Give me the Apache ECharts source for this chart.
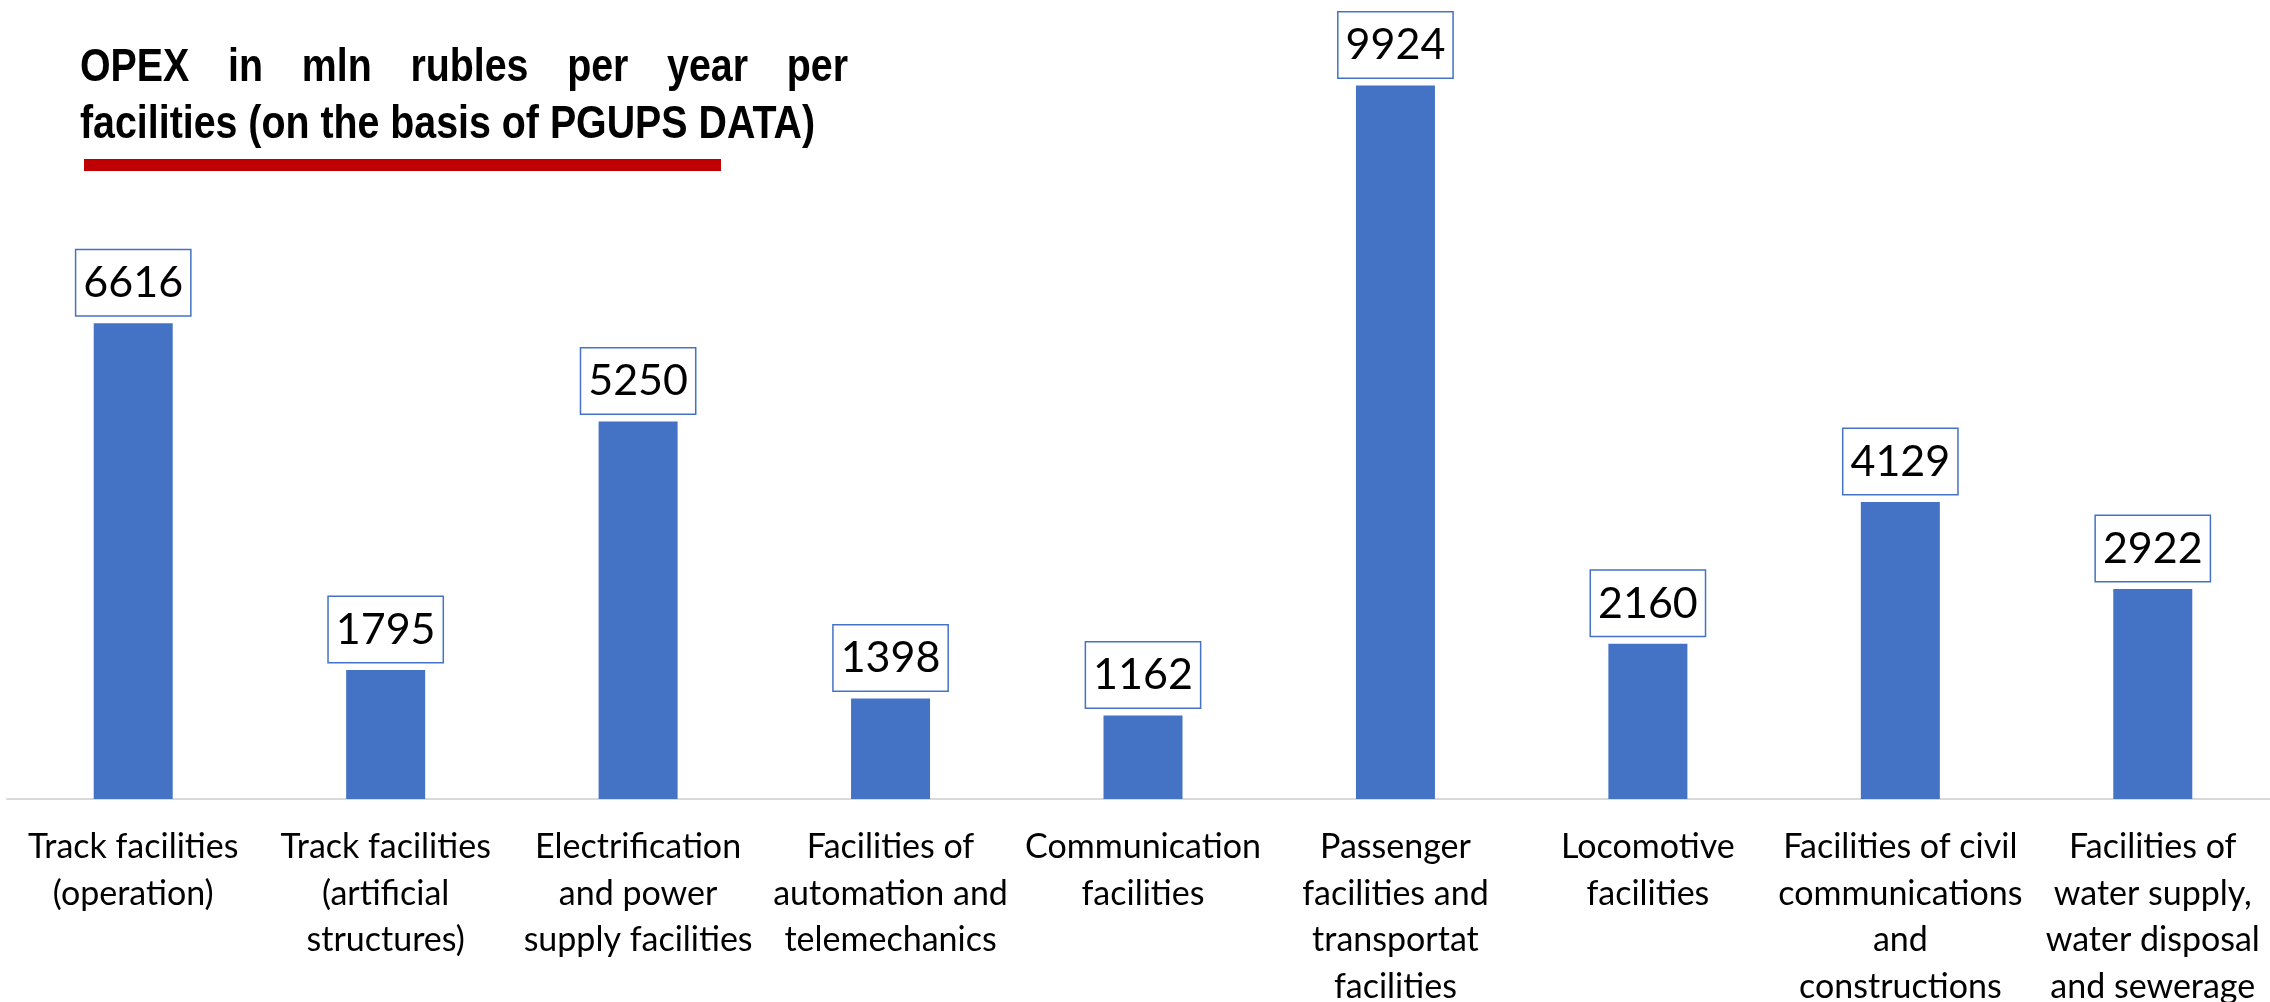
<!DOCTYPE html>
<html>
<head>
<meta charset="utf-8">
<style>
  html, body { margin: 0; padding: 0; background: #fff; }
  #chart { width: 2270px; height: 1002px; }
</style>
<script src="https://cdn.jsdelivr.net/npm/echarts@6/dist/echarts.min.js"></script>
</head>
<body>
<div id="chart"></div>
<script>
// Facility groups (line breaks follow the printed wrapping)
const categories = [
  'Track facilities\n(operation)',
  'Track facilities\n(artificial\nstructures)',
  'Electrification\nand power\nsupply facilities',
  'Facilities of\nautomation and\ntelemechanics',
  'Communication\nfacilities',
  'Passenger\nfacilities and\ntransportat\nfacilities',
  'Locomotive\nfacilities',
  'Facilities of civil\ncommunications\nand\nconstructions',
  'Facilities of\nwater supply,\nwater disposal\nand sewerage'
];

// OPEX, mln rubles per year
const opexValues = [6616, 1795, 5250, 1398, 1162, 9924, 2160, 4129, 2922];

const titleLines = [
  'OPEX in mln rubles per year per',
  'facilities (on the basis of PGUPS DATA)'
];

const chart = echarts.init(document.getElementById('chart'), null, { renderer: 'canvas' });

// Title: bold condensed, first line justified to the block width
const titleFont = 'bold 46px "Liberation Sans", Arial, sans-serif';
const measure = document.createElement('canvas').getContext('2d');
measure.font = titleFont;
const titleLeft = 80, titleRight = 848, line2Width = 735;
const sx = line2Width / measure.measureText(titleLines[1]).width;
const words = titleLines[0].split(' ');
const wordWidths = words.map(w => measure.measureText(w).width * sx);
const gap = (titleRight - titleLeft - wordWidths.reduce((a, b) => a + b, 0)) / (words.length - 1);

const graphics = [];
let cx = titleLeft;
words.forEach((w, i) => {
  graphics.push({
    type: 'text', x: cx, y: 68, scaleX: sx,
    style: { text: w, font: titleFont, fill: '#000', verticalAlign: 'middle' }
  });
  cx += wordWidths[i] + gap;
});
graphics.push({
  type: 'text', x: titleLeft, y: 125, scaleX: sx,
  style: { text: titleLines[1], font: titleFont, fill: '#000', verticalAlign: 'middle' }
});
graphics.push({
  type: 'rect', shape: { x: 84, y: 159, width: 637, height: 12 },
  style: { fill: '#C00000' }
});

const option = {
  backgroundColor: '#fff',
  animation: false,
  graphic: graphics,
  grid: { left: 7, width: 2272, top: 80, bottom: 203, containLabel: false, outerBoundsMode: 'none' },
  xAxis: {
    type: 'category',
    data: categories,
    axisLine: { show: true, lineStyle: { color: '#D9D9D9', width: 2 } },
    axisTick: { show: false },
    axisLabel: {
      interval: 0,
      margin: 25,
      color: '#000',
      fontFamily: 'Lato, "Open Sans", sans-serif',
      fontSize: 34,
      lineHeight: 46.5,
      verticalAlign: 'top'
    }
  },
  yAxis: {
    type: 'value',
    min: 0,
    max: 10000,
    show: false,
    splitLine: { show: false }
  },
  series: [{
    type: 'bar',
    data: opexValues,
    barWidth: 79,
    itemStyle: { color: '#4472C4' },
    label: {
      show: true,
      position: 'top',
      distance: 8,
      color: '#000',
      fontFamily: 'Lato, "Open Sans", sans-serif',
      fontSize: 43,
      lineHeight: 52,
      backgroundColor: '#fff',
      borderColor: '#4472C4',
      borderWidth: 1.5,
      padding: [7, 7, 6, 7]
    }
  }]
};

chart.setOption(option);
</script>
</body>
</html>
